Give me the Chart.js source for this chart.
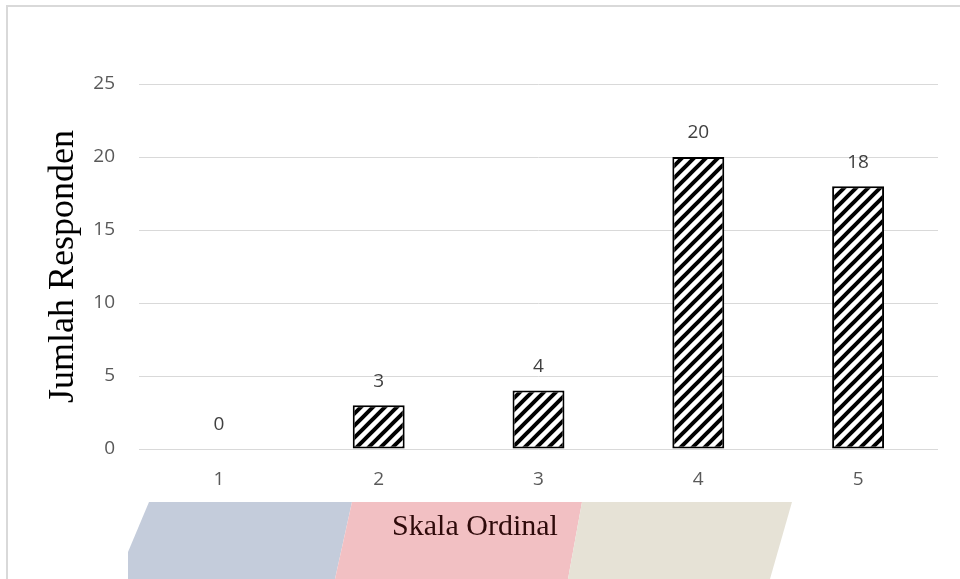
<!DOCTYPE html>
<html>
<head>
<meta charset="utf-8">
<script src="https://cdn.jsdelivr.net/npm/chart.js@4"></script>
<style>
  html, body { margin: 0; padding: 0; background: #fff; }
  #wrap { width: 960px; height: 579px; }
</style>
</head>
<body>
<div id="wrap"><canvas id="myChart" width="960" height="579"></canvas></div>
<script>
const categories = ['1', '2', '3', '4', '5'];
const responden = [0, 3, 4, 20, 18];
const yTicks = [0, 5, 10, 15, 20, 25];
const xTitle = 'Skala Ordinal';
const yTitle = 'Jumlah Responden';

// diagonal hatch fill for the bars
function hatch() {
    const s = 12;
    const c = document.createElement('canvas');
    c.width = s; c.height = s;
    const g = c.getContext('2d');
    g.fillStyle = '#fff';
    g.fillRect(0, 0, s, s);
    g.strokeStyle = '#000';
    g.lineWidth = 4;
    g.beginPath();
    g.moveTo(-s / 2, s / 2); g.lineTo(s / 2, -s / 2);
    g.moveTo(0, s); g.lineTo(s, 0);
    g.moveTo(s / 2, s * 1.5); g.lineTo(s * 1.5, s / 2);
    g.stroke();
    return g.createPattern(c, 'repeat');
}

// background frame, the coloured band and the x title on top of it
const backdrop = {
    id: 'backdrop',
    beforeDraw(chart) {
        const c = chart.ctx;
        c.save();
        c.fillStyle = '#c4ccdb';
        c.beginPath();
        c.moveTo(149, 502); c.lineTo(352, 502); c.lineTo(335, 579); c.lineTo(128, 579); c.lineTo(128, 552);
        c.closePath(); c.fill();
        c.fillStyle = '#f2c0c3';
        c.beginPath();
        c.moveTo(352, 502); c.lineTo(582, 502); c.lineTo(568, 579); c.lineTo(335, 579);
        c.closePath(); c.fill();
        c.fillStyle = '#e6e2d6';
        c.beginPath();
        c.moveTo(582, 502); c.lineTo(792, 502); c.lineTo(770, 579); c.lineTo(568, 579);
        c.closePath(); c.fill();
        c.strokeStyle = '#d9d9d9';
        c.lineWidth = 2;
        c.strokeRect(7, 6, 970, 600);
        c.restore();
    },
    afterDraw(chart) {
        const c = chart.ctx;
        c.save();
        c.font = '30px "Liberation Serif"';
        c.fillStyle = '#2e0a0a';
        c.textAlign = 'center';
        c.textBaseline = 'middle';
        c.fillText(xTitle, 475, 527);
        c.restore();
    }
};

const valueLabels = {
    id: 'valueLabels',
    afterDatasetsDraw(chart) {
        const c = chart.ctx;
        const meta = chart.getDatasetMeta(0);
        c.save();
        c.font = '19px "Open Sans"';
        c.fillStyle = '#404040';
        c.textAlign = 'center';
        c.textBaseline = 'middle';
        meta.data.forEach((bar, i) => {
            c.fillText(String(responden[i]), bar.x, bar.y - 24);
        });
        c.restore();
    }
};

const ctx = document.getElementById('myChart');

new Chart(ctx, {
    type: 'bar',
    data: {
        labels: categories,
        datasets: [{
            data: responden,
            backgroundColor: hatch(),
            borderColor: '#000',
            borderWidth: 2,
            borderSkipped: false,
            categoryPercentage: 1,
            barPercentage: 0.325
        }]
    },
    options: {
        responsive: false,
        animation: false,
        layout: { padding: { top: 84, right: 22, left: 0, bottom: 0 } },
        plugins: {
            legend: { display: false },
            tooltip: { enabled: false }
        },
        scales: {
            x: {
                grid: { display: false },
                border: { display: false },
                ticks: { color: '#595959', font: { family: 'Open Sans', size: 19 }, padding: 11 },
                afterFit(s) { s.height = 130; }
            },
            y: {
                min: 0,
                max: 25,
                afterBuildTicks(s) { s.ticks = yTicks.map(v => ({ value: v })); },
                grid: { color: '#d9d9d9', lineWidth: 1, drawTicks: false },
                border: { display: false },
                ticks: { color: '#595959', font: { family: 'Open Sans', size: 19 }, padding: 24 },
                title: {
                    display: true,
                    text: yTitle,
                    color: '#000',
                    font: { family: 'Liberation Serif', size: 36 },
                    padding: { top: 42, bottom: 0 }
                },
                afterFit(s) { s.width = 139; }
            }
        }
    },
    plugins: [backdrop, valueLabels]
});
</script>
</body>
</html>
